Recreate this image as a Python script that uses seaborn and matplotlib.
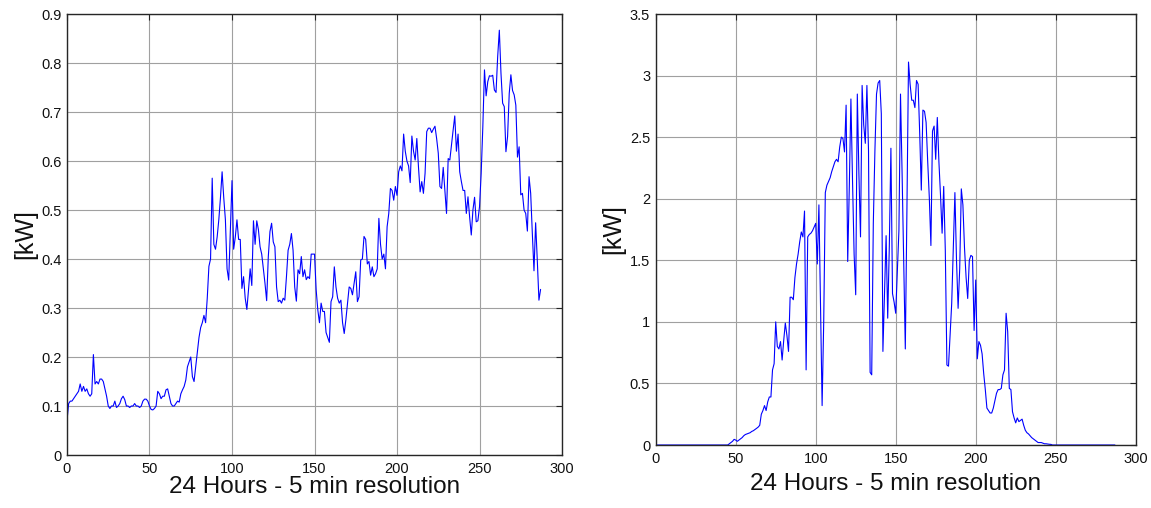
import numpy as np
import pandas as pd
import matplotlib
matplotlib.use("Agg")
import matplotlib.pyplot as plt
from matplotlib.ticker import FormatStrFormatter, MultipleLocator
import seaborn as sns

# Household load, 288 five-minute samples over one day [kW]
load_kw = [
    0.07, 0.105, 0.11, 0.11, 0.115, 0.12, 0.125, 0.13, 0.145, 0.13,
    0.14, 0.13, 0.135, 0.125, 0.12, 0.125, 0.205, 0.145, 0.15, 0.145,
    0.155, 0.155, 0.15, 0.135, 0.12, 0.10, 0.095, 0.1, 0.10, 0.11,
    0.097, 0.10, 0.105, 0.115, 0.12, 0.113, 0.10, 0.1, 0.097, 0.1,
    0.1, 0.105, 0.1, 0.1, 0.097, 0.10, 0.11, 0.114, 0.114, 0.11,
    0.1, 0.093, 0.092, 0.095, 0.10, 0.13, 0.125, 0.115, 0.12, 0.12,
    0.133, 0.135, 0.12, 0.105, 0.1, 0.1, 0.105, 0.11, 0.108, 0.125,
    0.133, 0.14, 0.153, 0.18, 0.19, 0.2, 0.16, 0.15, 0.18, 0.21,
    0.24, 0.26, 0.27, 0.285, 0.27, 0.32, 0.385, 0.40, 0.565, 0.43,
    0.42, 0.445, 0.48, 0.525, 0.578, 0.525, 0.48, 0.38, 0.357, 0.46,
    0.56, 0.42, 0.445, 0.48, 0.44, 0.44, 0.34, 0.364, 0.32, 0.297,
    0.337, 0.38, 0.346, 0.478, 0.43, 0.478, 0.46, 0.425, 0.41, 0.38,
    0.35, 0.315, 0.405, 0.456, 0.473, 0.435, 0.425, 0.343, 0.313, 0.316,
    0.31, 0.32, 0.316, 0.364, 0.418, 0.43, 0.452, 0.418, 0.343, 0.314,
    0.378, 0.37, 0.405, 0.364, 0.378, 0.358, 0.364, 0.36, 0.41, 0.41,
    0.41, 0.337, 0.296, 0.27, 0.31, 0.293, 0.293, 0.25, 0.24, 0.23,
    0.313, 0.323, 0.384, 0.343, 0.32, 0.31, 0.316, 0.27, 0.248, 0.276,
    0.31, 0.343, 0.34, 0.327, 0.35, 0.374, 0.313, 0.323, 0.398, 0.40,
    0.446, 0.44, 0.39, 0.395, 0.367, 0.384, 0.364, 0.37, 0.38, 0.483,
    0.43, 0.40, 0.41, 0.38, 0.466, 0.493, 0.544, 0.54, 0.52, 0.548,
    0.53, 0.578, 0.59, 0.58, 0.655, 0.62, 0.6, 0.59, 0.556, 0.651,
    0.62, 0.602, 0.646, 0.588, 0.537, 0.558, 0.534, 0.575, 0.66, 0.667,
    0.667, 0.658, 0.665, 0.671, 0.646, 0.616, 0.548, 0.544, 0.587, 0.54,
    0.493, 0.605, 0.602, 0.633, 0.663, 0.692, 0.62, 0.655, 0.578, 0.558,
    0.54, 0.54, 0.493, 0.527, 0.486, 0.449, 0.5, 0.526, 0.476, 0.478,
    0.507, 0.575, 0.67, 0.786, 0.733, 0.762, 0.774, 0.773, 0.775, 0.745,
    0.74, 0.813, 0.867, 0.779, 0.718, 0.711, 0.619, 0.65, 0.738, 0.776,
    0.744, 0.735, 0.714, 0.608, 0.629, 0.531, 0.534, 0.5, 0.493, 0.457,
    0.568, 0.534, 0.452, 0.376, 0.474, 0.398, 0.316, 0.338,
]

# PV generation, same 288 five-minute samples [kW]
pv_kw = [
    0, 0, 0, 0, 0, 0, 0, 0, 0, 0,
    0, 0, 0, 0, 0, 0, 0, 0, 0, 0,
    0, 0, 0, 0, 0, 0, 0, 0, 0, 0,
    0, 0, 0, 0, 0, 0, 0, 0, 0, 0,
    0, 0, 0, 0, 0, 0, 0.01, 0.02, 0.03, 0.046,
    0.04, 0.03, 0.04, 0.05, 0.06, 0.075, 0.085, 0.09, 0.095, 0.1,
    0.11, 0.116, 0.125, 0.135, 0.145, 0.16, 0.25, 0.28, 0.32, 0.28,
    0.35, 0.39, 0.39, 0.61, 0.66, 1.0, 0.8, 0.78, 0.84, 0.69,
    0.85, 0.99, 0.89, 0.76, 1.2, 1.2, 1.18, 1.36, 1.47, 1.55,
    1.65, 1.73, 1.69, 1.9, 0.61, 1.69, 1.71, 1.72, 1.74, 1.77,
    1.8, 1.47, 1.95, 1.13, 0.32, 1.0, 2.05, 2.11, 2.14, 2.17,
    2.22, 2.26, 2.3, 2.32, 2.3, 2.42, 2.5, 2.49, 2.38, 2.76,
    1.49, 2.1, 2.81, 2.15, 1.55, 1.22, 2.85, 2.2, 1.69, 2.92,
    2.6, 2.45, 2.92, 2.39, 0.59, 0.57, 1.8, 2.39, 2.85, 2.94,
    2.96, 2.69, 0.76, 1.23, 1.7, 1.03, 1.61, 2.41, 1.23, 1.16,
    1.07, 1.4, 1.74, 2.85, 2.2, 1.5, 0.78, 1.9, 3.11, 2.93,
    2.8, 2.8, 2.74, 2.96, 2.93, 2.53, 2.07, 2.72, 2.71, 2.62,
    2.3, 2.01, 1.62, 2.55, 2.59, 2.32, 2.66, 2.3, 2.03, 1.72,
    2.1, 1.58, 0.65, 0.64, 0.9, 1.15, 1.6, 2.05, 1.5, 1.11,
    1.43, 2.08, 1.95, 1.6, 1.36, 1.19, 1.5, 1.54, 1.53, 0.93,
    1.34, 0.7, 0.84, 0.81, 0.74, 0.58, 0.45, 0.3, 0.28, 0.26,
    0.26, 0.3, 0.36, 0.42, 0.45, 0.45, 0.46, 0.57, 0.61, 1.07,
    0.92, 0.46, 0.45, 0.27, 0.22, 0.18, 0.22, 0.19, 0.2, 0.21,
    0.16, 0.12, 0.1, 0.09, 0.075, 0.06, 0.05, 0.04, 0.03, 0.02,
    0.02, 0.02, 0.015, 0.01, 0.01, 0.008, 0.006, 0.005, 0, 0,
    0, 0, 0, 0, 0, 0, 0, 0, 0, 0,
    0, 0, 0, 0, 0, 0, 0, 0, 0, 0,
    0, 0, 0, 0, 0, 0, 0, 0, 0, 0,
    0, 0, 0, 0, 0, 0, 0, 0,
]

x_label = "24 Hours - 5 min resolution"
y_label = "[kW]"
x_ticks = [0, 50, 100, 150, 200, 250, 300]

sns.set_theme(style="whitegrid")
plt.rcParams["font.family"] = ["Liberation Sans", "DejaVu Sans"]

df = pd.DataFrame({
    "sample": np.arange(len(load_kw)),
    "load": load_kw,
    "pv": pv_kw,
})

fig = plt.figure(figsize=(11.51, 5.08), dpi=100)
fig.patch.set_facecolor("white")
ax_load = fig.add_axes([0.0582, 0.1043, 0.4301, 0.8681])
ax_pv = fig.add_axes([0.5697, 0.1240, 0.4170, 0.8484])

line_kw = dict(color="#0000ff", linewidth=0.8)
sns.lineplot(data=df, x="sample", y="load", ax=ax_load, **line_kw)
sns.lineplot(data=df, x="sample", y="pv", ax=ax_pv, **line_kw)

axis_cfg = [
    (ax_load, (0, 0.9), 0.1, (-0.085, 0.5), -0.0726),
    (ax_pv, (0, 3.5), 0.5, (-0.088, 0.5), -0.090),
]
for ax, ylim, ystep, ylab_xy, xlab_y in axis_cfg:
    ax.set_facecolor("white")
    ax.set_xlim(0, 300)
    ax.set_ylim(*ylim)
    ax.set_xticks(x_ticks)
    ax.yaxis.set_major_locator(MultipleLocator(ystep))
    ax.yaxis.set_major_formatter(FormatStrFormatter("%g"))
    ax.grid(True, color="#a0a0a0", linewidth=0.8, linestyle="-")
    ax.set_axisbelow(True)
    for side in ("left", "right", "top", "bottom"):
        ax.spines[side].set_visible(True)
        ax.spines[side].set_color("#262626")
        ax.spines[side].set_linewidth(1.0)
    ax.tick_params(axis="both", which="both", direction="in", length=4,
                   width=0.8, color="#262626", top=True, right=True,
                   labelsize=10.5, labelcolor="#111111")
    ax.tick_params(axis="y", pad=4)
    ax.tick_params(axis="x", pad=5)
    ax.set_xlabel(x_label, fontsize=17.5, color="#111111", va="center")
    ax.xaxis.set_label_coords(0.5, xlab_y)
    ax.set_ylabel(y_label, fontsize=18, color="#111111", va="center")
    ax.yaxis.set_label_coords(*ylab_xy)

fig.savefig("out.png", dpi=100, facecolor="white")
